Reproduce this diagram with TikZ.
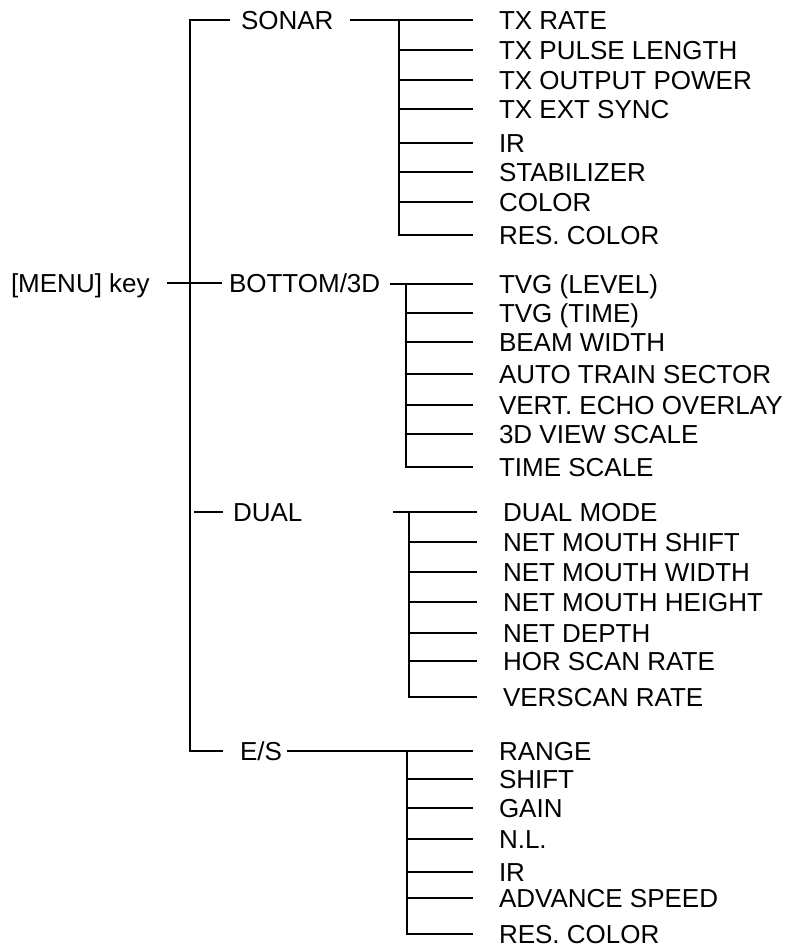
\documentclass[tikz,border=0pt]{standalone}
\usepackage{fontspec}
\setmainfont{Liberation Sans}
\begin{document}
\begin{tikzpicture}[x=1pt,y=-1pt,line width=2pt,
  lbl/.style={anchor=west,inner sep=0pt,font=\fontsize{26}{31}\selectfont,text height=18.6pt,text depth=0pt}]
\useasboundingbox (0,0) rectangle (784,947);
% level 1
\node[lbl] (menu) at (10,283) {[MENU] key};
\node[lbl] (sonar) at (240,20) {SONAR};
\node[lbl] (bottom) at (228,283) {BOTTOM/3D};
\node[lbl] (dual) at (232,512) {DUAL};
\node[lbl] (es) at (239,751) {E/S};
\coordinate (mainbot) at (190,751);
\draw ([xshift=-10pt]sonar.west) -| (mainbot) -- ([xshift=-16pt]es.west);
\coordinate (mj) at (167,283);
\draw (mj) -- ([xshift=-6pt]bottom.west);
\draw ([xshift=-38pt]dual.west) -- ([xshift=-9pt]dual.west);
% SONAR group
\foreach \t/\y [count=\i] in {TX RATE/20,TX PULSE LENGTH/50,TX OUTPUT POWER/80,TX EXT SYNC/109,IR/143,STABILIZER/172,COLOR/202,RES. COLOR/235}{
  \node[lbl] (s\i) at (498,\y) {\t};
  \draw ([xshift=-99pt]s\i.west) -- ([xshift=-25pt]s\i.west);
}
\coordinate (sj) at (350,20);
\draw (sj) -- ([xshift=-25pt]s1.west);
\draw ([xshift=-99pt]s1.west) |- ([xshift=-25pt]s8.west);
% BOTTOM/3D group
\foreach \t/\y [count=\i] in {TVG (LEVEL)/284,TVG (TIME)/313,BEAM WIDTH/342,AUTO TRAIN SECTOR/374,VERT. ECHO OVERLAY/405,3D VIEW SCALE/434,TIME SCALE/467}{
  \node[lbl] (b\i) at (498,\y) {\t};
  \draw ([xshift=-92pt]b\i.west) -- ([xshift=-25pt]b\i.west);
}
\coordinate (bj) at (390,284);
\draw (bj) -- ([xshift=-25pt]b1.west);
\draw ([xshift=-92pt]b1.west) |- ([xshift=-25pt]b7.west);
% DUAL group
\foreach \t/\y [count=\i] in {DUAL MODE/512,NET MOUTH SHIFT/542,NET MOUTH WIDTH/572,NET MOUTH HEIGHT/602,NET DEPTH/633,HOR SCAN RATE/661,VERSCAN RATE/697}{
  \node[lbl] (d\i) at (502,\y) {\t};
  \draw ([xshift=-93pt]d\i.west) -- ([xshift=-25pt]d\i.west);
}
\coordinate (dj) at (393,512);
\draw (dj) -- ([xshift=-25pt]d1.west);
\draw ([xshift=-93pt]d1.west) |- ([xshift=-25pt]d7.west);
% E/S group
\foreach \t/\y [count=\i] in {RANGE/751,SHIFT/779,GAIN/808,N.L./839,IR/872,ADVANCE SPEED/898,RES. COLOR/934}{
  \node[lbl] (e\i) at (498,\y) {\t};
  \draw ([xshift=-91pt]e\i.west) -- ([xshift=-25pt]e\i.west);
}
\coordinate (ej) at (287,751);
\draw (ej) -- ([xshift=-25pt]e1.west);
\draw ([xshift=-91pt]e1.west) |- ([xshift=-25pt]e7.west);
\end{tikzpicture}
\end{document}
